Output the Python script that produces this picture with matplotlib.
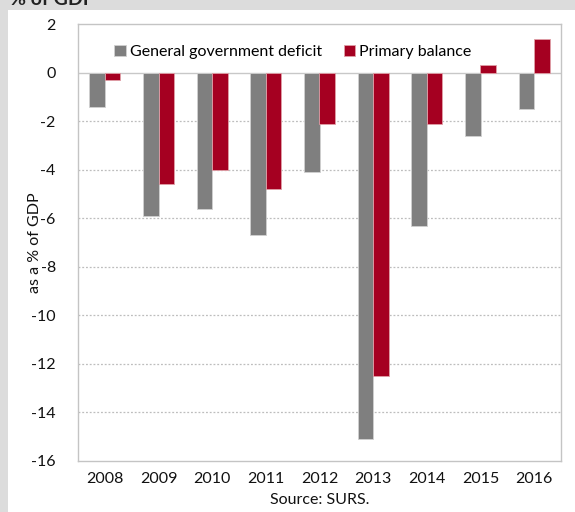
import numpy as np
import matplotlib
matplotlib.use("Agg")
import matplotlib.pyplot as plt
from matplotlib.patches import Rectangle

plt.rcParams['font.family'] = ['Lato', 'DejaVu Sans']

years = ['2008', '2009', '2010', '2011', '2012', '2013', '2014', '2015', '2016']
deficit = [-1.4, -5.9, -5.6, -6.7, -4.1, -15.1, -6.3, -2.6, -1.5]
primary = [-0.3, -4.6, -4.0, -4.8, -2.1, -12.5, -2.1, 0.3, 1.4]
yticks = [2, 0, -2, -4, -6, -8, -10, -12, -14, -16]

W, H = 575, 512
fig = plt.figure(figsize=(W / 100, H / 100), dpi=100)
fig.patch.set_facecolor('#dcdcdc')
# white panel behind the chart
fig.patches.append(Rectangle((8 / W, 0), 1, 1 - 10 / H, transform=fig.transFigure,
                             facecolor='white', edgecolor='none', zorder=-5))
fig.text(10 / W, 1 - 5 / H, '% of GDP', fontsize=14, fontweight='bold',
         ha='left', va='baseline', color='#222222')

ax = fig.add_axes([78 / W, 1 - 461 / H, (561 - 78) / W, (461 - 24) / H])
ax.set_zorder(2)
x = np.arange(len(years))
w = 0.29
ax.bar(x - w / 2, deficit, w, color='#7f7f7f', edgecolor='#d0d0d0', linewidth=0.6,
       label='General government deficit', zorder=3)
ax.bar(x + w / 2, primary, w, color='#a50021', edgecolor='#e0a0a8', linewidth=0.6,
       label='Primary balance', zorder=3)

ax.set_xlim(-0.5, len(years) - 0.5)
ax.set_ylim(-16, 2)
ax.set_yticks(yticks)
ax.set_yticklabels([str(t) for t in yticks])
ax.set_xticks(x)
ax.set_xticklabels(years)
ax.tick_params(length=0, labelsize=11.5, colors='#111111')
ax.tick_params(axis='y', pad=16)
ax.tick_params(axis='x', pad=8)
ax.axhline(0, color='#c8c8c8', linewidth=1, zorder=2)
for t in yticks[2:-1]:
    ax.axhline(t, color='#bdbdbd', linewidth=0.9, linestyle=(0, (1.5, 1.5)), zorder=1)
for s in ax.spines.values():
    s.set_color('#c4c4c4')
    s.set_linewidth(1)

ax.set_ylabel('as a % of GDP', fontsize=11.5, color='#111111')
ax.yaxis.set_label_coords(-0.075, 0.5)

ax.legend(loc='upper center', bbox_to_anchor=(0.445, 0.985), ncol=2, frameon=False,
          fontsize=11.5, handlelength=0.7, handleheight=0.7, handletextpad=0.25,
          columnspacing=1.4)

fig.text((78 + 561) / 2 / W, 1 - 500 / H, 'Source: SURS.', fontsize=11.5,
         ha='center', va='center', color='#111111')

fig.savefig('out.png', dpi=100, facecolor=fig.get_facecolor())
